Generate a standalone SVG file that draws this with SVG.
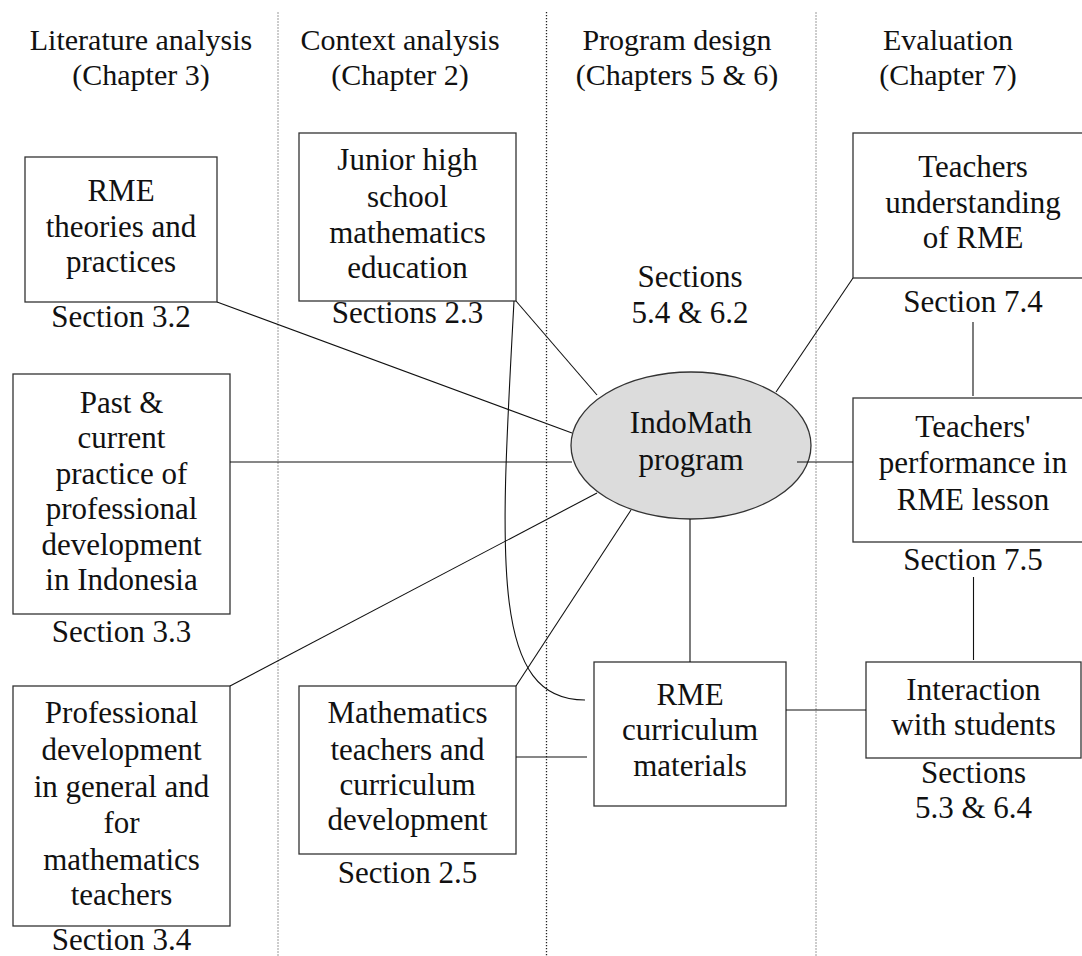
<svg xmlns="http://www.w3.org/2000/svg" width="1082" height="956" viewBox="0 0 1082 956">
  <style>
    text { font-family: "Liberation Serif", "Times New Roman", serif; font-size: 31px; fill: #111; text-anchor: middle; }
    .head { font-size: 30px; }
    .box { fill: #fff; stroke: #333; stroke-width: 1.3; }
    .oval { fill: #dcdcdc; stroke: #333; stroke-width: 1.3; }
    .link { fill: none; stroke: #111; stroke-width: 1.1; }
    .div-gray { stroke: #9a9a9a; stroke-width: 1; stroke-dasharray: 2 1; }
    .div-dot { stroke: #222; stroke-width: 1.3; stroke-dasharray: 1.3 1.7; }
  </style>

  <rect width="1082" height="956" fill="#fff"/>

  <!-- column dividers -->
  <g id="dividers">
    <line class="div-gray" x1="278" y1="12" x2="278" y2="956"/>
    <line class="div-dot" x1="546.5" y1="12" x2="546.5" y2="956"/>
    <line class="div-gray" x1="816" y1="12" x2="816" y2="956"/>
  </g>

  <!-- column headings -->
  <g id="headings">
    <text class="head" x="141" y="50">Literature analysis</text>
    <text class="head" x="141" y="85">(Chapter 3)</text>
    <text class="head" x="400" y="50">Context analysis</text>
    <text class="head" x="400" y="85">(Chapter 2)</text>
    <text class="head" x="677" y="50">Program design</text>
    <text class="head" x="677" y="85">(Chapters 5 &amp; 6)</text>
    <text class="head" x="948" y="50">Evaluation</text>
    <text class="head" x="948" y="85">(Chapter 7)</text>
  </g>

  <!-- literature analysis column -->
  <g id="rme-theories">
    <rect class="box" x="25" y="157" width="192" height="145"/>
    <text x="121" y="201">RME</text>
    <text x="121" y="237">theories and</text>
    <text x="121" y="272">practices</text>
    <text x="121" y="327">Section 3.2</text>
  </g>

  <g id="past-current-practice">
    <rect class="box" x="13" y="374" width="217" height="240"/>
    <text x="121.5" y="413">Past &amp;</text>
    <text x="121.5" y="448">current</text>
    <text x="121.5" y="484">practice of</text>
    <text x="121.5" y="519">professional</text>
    <text x="121.5" y="555">development</text>
    <text x="121.5" y="590">in Indonesia</text>
    <text x="121.5" y="642">Section 3.3</text>
  </g>

  <g id="professional-development">
    <rect class="box" x="13" y="686" width="217" height="240"/>
    <text x="121.5" y="723">Professional</text>
    <text x="121.5" y="760">development</text>
    <text x="121.5" y="797">in general and</text>
    <text x="121.5" y="833">for</text>
    <text x="121.5" y="870">mathematics</text>
    <text x="121.5" y="905">teachers</text>
    <text x="121.5" y="950">Section 3.4</text>
  </g>

  <!-- context analysis column -->
  <g id="junior-high">
    <rect class="box" x="299" y="133" width="217" height="168"/>
    <text x="407.5" y="170">Junior high</text>
    <text x="407.5" y="207">school</text>
    <text x="407.5" y="243">mathematics</text>
    <text x="407.5" y="278">education</text>
    <text x="407.5" y="323">Sections 2.3</text>
  </g>

  <g id="math-teachers">
    <rect class="box" x="299" y="686" width="217" height="168"/>
    <text x="407.5" y="723">Mathematics</text>
    <text x="407.5" y="760">teachers and</text>
    <text x="407.5" y="795">curriculum</text>
    <text x="407.5" y="830">development</text>
    <text x="407.5" y="883">Section 2.5</text>
  </g>

  <!-- program design column -->
  <g id="indomath">
    <text x="690" y="287">Sections</text>
    <text x="690" y="323">5.4 &amp; 6.2</text>
    <ellipse class="oval" cx="691" cy="445.5" rx="120" ry="73.5"/>
    <text x="691" y="433">IndoMath</text>
    <text x="691" y="470">program</text>
  </g>

  <g id="rme-curriculum">
    <rect class="box" x="594" y="662" width="192" height="144"/>
    <text x="690" y="705">RME</text>
    <text x="690" y="740">curriculum</text>
    <text x="690" y="776">materials</text>
  </g>

  <!-- evaluation column -->
  <g id="teachers-understanding">
    <rect class="box" x="853" y="133" width="240" height="145"/>
    <text x="973" y="177">Teachers</text>
    <text x="973" y="213">understanding</text>
    <text x="973" y="248">of RME</text>
    <text x="973" y="312">Section 7.4</text>
  </g>

  <g id="teachers-performance">
    <rect class="box" x="853" y="398" width="240" height="144"/>
    <text x="973" y="437">Teachers'</text>
    <text x="973" y="473">performance in</text>
    <text x="973" y="510">RME lesson</text>
    <text x="973" y="570">Section 7.5</text>
  </g>

  <g id="interaction">
    <rect class="box" x="866" y="662" width="215" height="96"/>
    <text x="973.5" y="700">Interaction</text>
    <text x="973.5" y="735">with students</text>
    <text x="973.5" y="783">Sections</text>
    <text x="973.5" y="818">5.3 &amp; 6.4</text>
  </g>

  <!-- connectors -->
  <g id="connectors">
    <line class="link" x1="217" y1="302" x2="572" y2="433"/>
    <line class="link" x1="230" y1="462" x2="572" y2="462"/>
    <line class="link" x1="516" y1="301" x2="597" y2="395"/>
    <line class="link" x1="230" y1="686" x2="597" y2="493"/>
    <line class="link" x1="516" y1="686" x2="631" y2="510"/>
    <path class="link" d="M514,301 C500,560 490,700 585,700"/>
    <line class="link" x1="516" y1="757" x2="587" y2="757"/>
    <line class="link" x1="690" y1="519" x2="690" y2="662"/>
    <line class="link" x1="786" y1="710" x2="866" y2="710"/>
    <line class="link" x1="853" y1="278" x2="776" y2="392"/>
    <line class="link" x1="797" y1="462" x2="853" y2="462"/>
    <line class="link" x1="973" y1="322" x2="973" y2="396"/>
    <line class="link" x1="973.5" y1="577" x2="973.5" y2="660"/>
  </g>
</svg>
